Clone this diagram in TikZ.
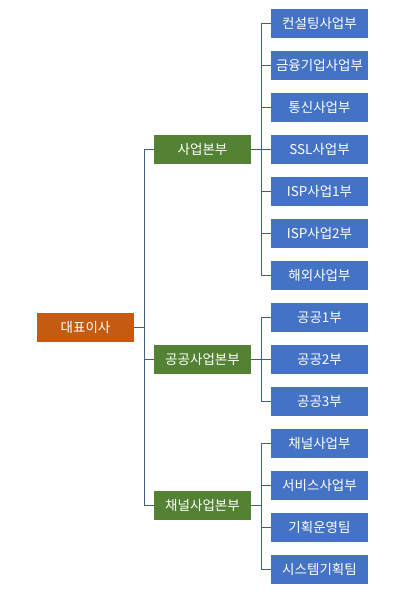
\documentclass[tikz,border=0pt]{standalone}
\usepackage{fontspec}
\setmainfont{Noto Sans CJK KR}
\begin{document}
\begin{tikzpicture}[x=1pt,y=-1pt,
  box/.style={minimum width=97pt,minimum height=28.5pt,inner sep=0pt,text=white,font=\fontsize{13.5}{15}\selectfont},
  bluebox/.style={box,fill={rgb,255:red,68;green,114;blue,196}},
  greenbox/.style={box,fill={rgb,255:red,84;green,130;blue,53}},
  orangebox/.style={box,fill={rgb,255:red,197;green,90;blue,17}},
  conn/.style={draw={rgb,255:red,68;green,94;blue,140},line width=1.4pt}]
\useasboundingbox (0,0) rectangle (413,592);
\node[orangebox] (ceo) at (85.5,327.3) {대표이사};
\node[greenbox] (g1) at (202.5,149.3) {사업본부};
\node[greenbox] (g2) at (202.5,359.3) {공공사업본부};
\node[greenbox] (g3) at (202.5,505.3) {채널사업본부};
\node[bluebox] (b1) at (319.5,23.3) {컨설팅사업부};
\node[bluebox] (b2) at (319.5,65.3) {금융기업사업부};
\node[bluebox] (b3) at (319.5,107.3) {통신사업부};
\node[bluebox] (b4) at (319.5,149.3) {SSL사업부};
\node[bluebox] (b5) at (319.5,191.3) {ISP사업1부};
\node[bluebox] (b6) at (319.5,233.3) {ISP사업2부};
\node[bluebox] (b7) at (319.5,275.3) {해외사업부};
\node[bluebox] (p1) at (319.5,317.3) {공공1부};
\node[bluebox] (p2) at (319.5,359.3) {공공2부};
\node[bluebox] (p3) at (319.5,401.3) {공공3부};
\node[bluebox] (c1) at (319.5,443.3) {채널사업부};
\node[bluebox] (c2) at (319.5,485.3) {서비스사업부};
\node[bluebox] (c3) at (319.5,527.3) {기획운영팀};
\node[bluebox] (c4) at (319.5,569.3) {시스템기획팀};
% CEO to divisions
\foreach \g in {g1,g2,g3}{
  \draw[conn] (ceo.east) -- ++(10,0) |- (\g.west);
}
\foreach \b in {b1,b2,b3,b4,b5,b6,b7}{
  \draw[conn] (g1.east) -- ++(10,0) |- (\b.west);
}
\foreach \b in {p1,p2,p3}{
  \draw[conn] (g2.east) -- ++(10,0) |- (\b.west);
}
\foreach \b in {c1,c2,c3,c4}{
  \draw[conn] (g3.east) -- ++(10,0) |- (\b.west);
}
\end{tikzpicture}
\end{document}
